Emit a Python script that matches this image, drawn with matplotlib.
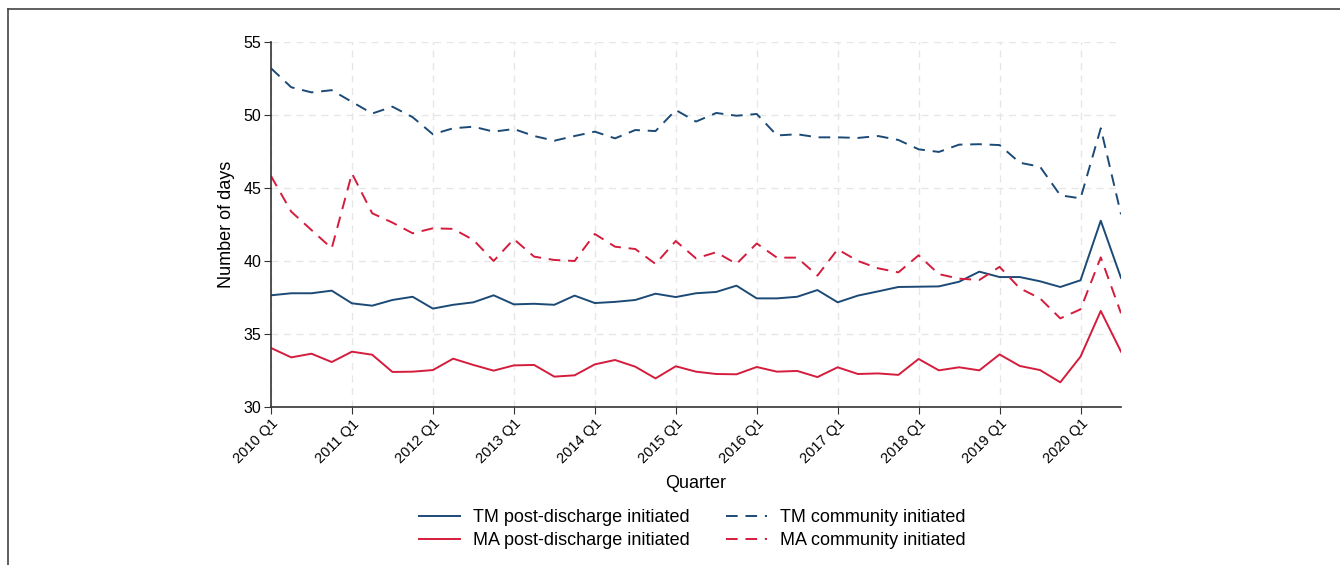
import matplotlib.pyplot as plt
from matplotlib.lines import Line2D

# quarters 2010 Q1 .. 2020 Q3
quarters = [f"{y} Q{q}" for y in range(2010, 2021) for q in range(1, 5)][:43]

tm_post = [37.65, 37.79, 37.79, 37.97, 37.10, 36.94, 37.33, 37.55, 36.74, 37.00,
           37.17, 37.65, 37.03, 37.07, 37.00, 37.63, 37.12, 37.20, 37.33, 37.76,
           37.53, 37.79, 37.88, 38.31, 37.44, 37.44, 37.55, 38.01, 37.17, 37.63,
           37.92, 38.22, 38.24, 38.26, 38.58, 39.27, 38.90, 38.90, 38.61, 38.22,
           38.68, 42.76, 38.84]
ma_post = [34.04, 33.40, 33.65, 33.08, 33.79, 33.58, 32.40, 32.42, 32.53, 33.31,
           32.88, 32.49, 32.85, 32.88, 32.08, 32.17, 32.92, 33.22, 32.76, 31.96,
           32.79, 32.42, 32.26, 32.24, 32.74, 32.42, 32.47, 32.05, 32.72, 32.26,
           32.30, 32.20, 33.29, 32.51, 32.72, 32.51, 33.60, 32.81, 32.53, 31.69,
           33.45, 36.58, 33.79]
tm_comm = [53.20, 51.90, 51.55, 51.70, 50.90, 50.10, 50.57, 49.85, 48.68, 49.09,
           49.20, 48.86, 49.04, 48.56, 48.24, 48.56, 48.86, 48.40, 48.97, 48.90,
           50.34, 49.55, 50.14, 49.95, 50.07, 48.60, 48.68, 48.47, 48.47, 48.43,
           48.56, 48.29, 47.65, 47.47, 47.97, 48.00, 47.94, 46.73, 46.46, 44.50,
           44.29, 49.09, 43.20]
ma_comm = [45.82, 43.38, 42.12, 40.87, 46.00, 43.27, 42.63, 41.90, 42.24, 42.20,
           41.44, 40.00, 41.50, 40.30, 40.07, 40.00, 41.85, 40.98, 40.82, 39.80,
           41.37, 40.18, 40.60, 39.80, 41.20, 40.23, 40.23, 39.00, 40.80, 40.00,
           39.50, 39.22, 40.39, 39.10, 38.79, 38.70, 39.60, 38.13, 37.44, 36.07,
           36.69, 40.25, 36.42]

navy = '#1c4a76'
red = '#d41c3c'

plt.rcParams['font.family'] = ['Liberation Sans', 'DejaVu Sans']

fig = plt.figure(figsize=(13.4, 5.65), dpi=100)
ax = fig.add_axes([271/1340, 1-407/565, 850/1340, 365/565])

x = list(range(len(quarters)))
l1, = ax.plot(x, tm_post, color=navy, lw=1.4, label='TM post-discharge initiated')
l2, = ax.plot(x, ma_post, color=red, lw=1.4, label='MA post-discharge initiated')
l3, = ax.plot(x, tm_comm, color=navy, lw=1.4, ls=(0, (6, 4)), label='TM community initiated')
l4, = ax.plot(x, ma_comm, color=red, lw=1.4, ls=(0, (6, 4)), label='MA community initiated')

ax.set_xlim(0, len(quarters) - 1)
ax.set_ylim(30, 55)
ax.set_yticks([30, 35, 40, 45, 50, 55])
ax.set_xticks(x[::4])
ax.set_xticklabels(quarters[::4], rotation=45, ha='right', rotation_mode='anchor', fontsize=10.5)
ax.tick_params(axis='y', labelsize=11.5, length=5, pad=2, color='#333333')
ax.tick_params(axis='x', length=5, pad=2, color='#333333')
ax.grid(True, color='#e6e6e6', ls=(0, (5, 4)), lw=1)
ax.set_axisbelow(True)
for s in ['top', 'right']:
    ax.spines[s].set_visible(False)
for s in ['left', 'bottom']:
    ax.spines[s].set_color('#333333')
    ax.spines[s].set_linewidth(1.2)

ax.set_ylabel('Number of days', fontsize=13, labelpad=6)
ax.set_xlabel('Quarter', fontsize=13, labelpad=6)

fig.legend(handles=[l1, l2, l3, l4], loc='center', bbox_to_anchor=(692/1340, 1-529/565),
           ncol=2, frameon=False, fontsize=13, handlelength=2.3, handletextpad=0.7,
           columnspacing=2.0, labelspacing=0.35)

# outer frame lines (top and left)
fig.add_artist(Line2D([8/1340, 1], [1-9/565, 1-9/565], color='#444444', lw=1.2))
fig.add_artist(Line2D([8/1340, 8/1340], [0, 1-9/565], color='#444444', lw=1.2))

fig.savefig('out.png', dpi=100)
